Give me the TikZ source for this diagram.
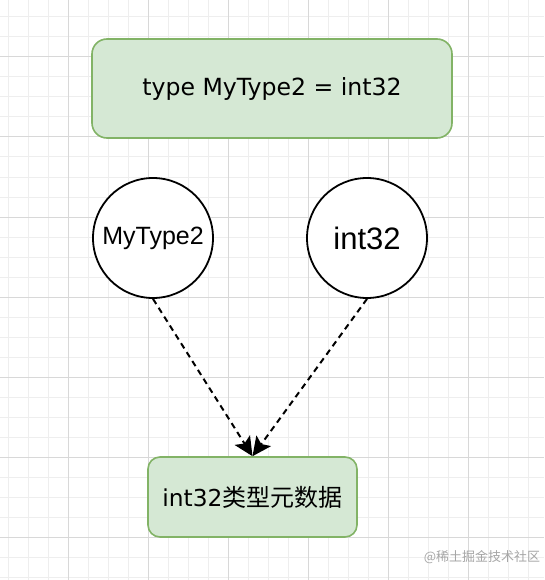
\documentclass[tikz,border=0pt]{standalone}
\usepackage{fontspec}
\setmainfont{Liberation Sans}
\newfontfamily\cjk{Noto Sans CJK SC}
\newfontfamily\dejavu{DejaVu Sans}
\usetikzlibrary{arrows.meta}
\definecolor{boxfill}{HTML}{D5E8D4}
\definecolor{boxline}{HTML}{82B366}
\definecolor{gridminor}{HTML}{EEEEEE}
\definecolor{gridmajor}{HTML}{D8D8D8}
\tikzset{
  greenbox/.style={draw=boxline, fill=boxfill, line width=1.6pt, rounded corners=15pt, font=\dejavu\fontsize{23.6}{28}\selectfont},
  typecircle/.style={circle, draw=black, line width=1.8pt, fill=white, minimum size=120pt, inner sep=0pt},
  refarrow/.style={-{Stealth[length=19pt,width=18pt,inset=4pt]}, line width=2pt, dash pattern=on 6pt off 4.5pt},
}
\begin{document}
\begin{tikzpicture}[x=1pt,y=-1pt]
  \useasboundingbox (0,0) rectangle (544,580);
  \fill[white] (0,0) rectangle (544,580);
  % grid
  \foreach \gx in {8,28,...,544} \draw[gridminor, line width=1pt] (\gx,0) -- (\gx,580);
  \foreach \gy in {17,37,...,580} \draw[gridminor, line width=1pt] (0,\gy) -- (544,\gy);
  \foreach \gx in {68,148,...,544} \draw[gridmajor, line width=1pt] (\gx,0) -- (\gx,580);
  \foreach \gy in {57,137,...,580} \draw[gridmajor, line width=1pt] (0,\gy) -- (544,\gy);
  % nodes
  \node[greenbox, minimum width=360pt, minimum height=99pt] (decl) at (272,88.5) {type MyType2 = int32};
  \node[typecircle, font=\fontsize{25}{30}\selectfont] (alias) at (153,238) {MyType2};
  \node[typecircle, font=\fontsize{31}{36}\selectfont] (base) at (367,238) {int32};
  \node[greenbox, rounded corners=12pt, minimum width=209pt, minimum height=80pt, font=\dejavu\fontsize{23.3}{28}\selectfont] (meta) at (252.5,497) {int32{\cjk\fontsize{24}{28}\selectfont 类型元数据}};
  % connectors
  \draw[refarrow] (alias.south) -- (meta.north);
  \draw[refarrow] (base.south) -- (meta.north);
  \node[text=black!35, font=\cjk\fontsize{13}{15}\selectfont] (mark) at (482,557) {@稀土掘金技术社区};
\end{tikzpicture}
\end{document}
